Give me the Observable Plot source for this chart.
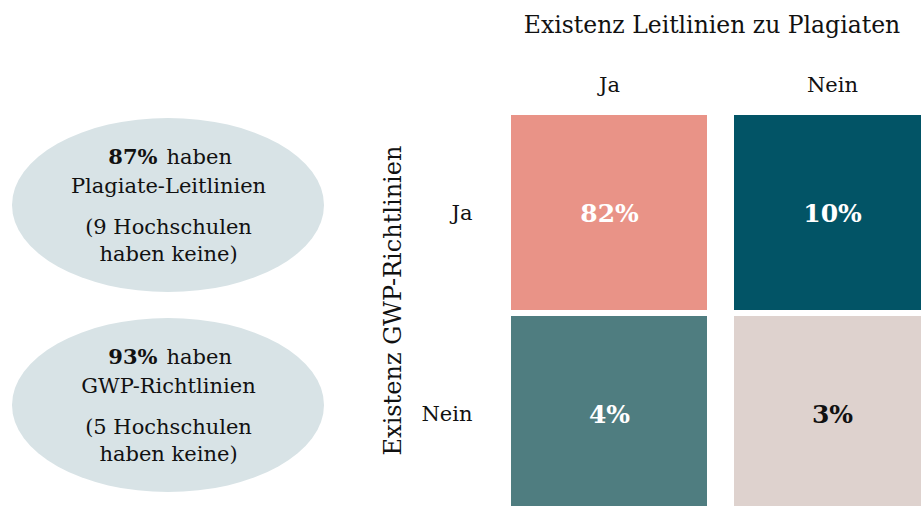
<!DOCTYPE html>
<html>
<head>
<meta charset="utf-8">
<script src="https://cdn.jsdelivr.net/npm/d3@7"></script>
<script src="https://cdn.jsdelivr.net/npm/@observablehq/plot@0.6"></script>
<style>
  html, body { margin: 0; padding: 0; background: #fff; overflow: hidden; }
  #wrap { display: flex; align-items: flex-start; width: 921px; height: 506px; overflow: hidden; }
  #wrap svg { flex: none; }
</style>
</head>
<body>
<div id="wrap"></div>
<script>
// ---- data ----
const plagiatCats = ["Ja", "Nein"];          // columns: Existenz Leitlinien zu Plagiaten
const gwpCats = ["Ja", "Nein"];              // rows: Existenz GWP-Richtlinien
const cellShares = [82, 10, 4, 3];           // row-major: (Ja,Ja) (Ja,Nein) (Nein,Ja) (Nein,Nein)
const summaryKeys = ["plag", "gwp"];
const summaryShares = [87, 93];
const summaryLabels = ["Plagiate-Leitlinien", "GWP-Richtlinien"];
const missingCounts = [9, 5];
const xTitle = "Existenz Leitlinien zu Plagiaten";
const yTitle = "Existenz GWP-Richtlinien";

const cells = [];
gwpCats.forEach((g, i) => plagiatCats.forEach((p, j) => {
  cells.push({gwp: g, plag: p, key: g + "|" + p, share: cellShares[i * plagiatCats.length + j]});
}));
const summaries = summaryKeys.map((k, i) => ({
  key: k, share: summaryShares[i], label: summaryLabels[i], missing: missingCounts[i]
}));

const font = "DejaVu Serif";

// ---- left: summary ellipses ----
const left = Plot.plot({
  width: 345, height: 506,
  marginTop: 118, marginBottom: 14, marginLeft: 12, marginRight: 21,
  style: {fontFamily: font, fontSize: "21px", color: "#111"},
  y: {type: "band", domain: summaryKeys, paddingInner: 0.13, paddingOuter: 0, axis: null},
  marks: [
    Plot.cell(summaries, {y: "key", fill: "#d8e3e6", rx: 156, ry: 87, inset: 0}),
    Plot.text(summaries, {y: "key", text: d => d.share + "%", fontWeight: "bold", textAnchor: "end", dx: -11, dy: -48, fontSize: 21, fill: "#111"}),
    Plot.text(summaries, {y: "key", text: () => "haben", textAnchor: "start", dx: -2, dy: -48, fontSize: 21, fill: "#111"}),
    Plot.text(summaries, {y: "key", text: "label", dy: -19, fontSize: 21, fill: "#111"}),
    Plot.text(summaries, {y: "key", text: d => "(" + d.missing + " Hochschulen", dy: 22, fontSize: 21, fill: "#111"}),
    Plot.text(summaries, {y: "key", text: () => "haben keine)", dy: 49, fontSize: 21, fill: "#111"})
  ]
});

// ---- right: 2x2 matrix ----
const right = Plot.plot({
  width: 586, height: 511,
  marginTop: 115, marginBottom: 0, marginLeft: 165, marginRight: 0,
  style: {fontFamily: font, fontSize: "21px", color: "#111"},
  x: {type: "band", domain: plagiatCats, paddingInner: 0.1205, paddingOuter: 0, label: null},
  y: {type: "band", domain: gwpCats, paddingInner: 0.03, paddingOuter: 0, label: null},
  color: {type: "ordinal", domain: cells.map(d => d.key), range: ["#e99387", "#025466", "#4f7d80", "#ded2ce"]},
  marks: [
    Plot.cell(cells, {x: "plag", y: "gwp", fill: "key", inset: 0}),
    Plot.text(cells, {x: "plag", y: "gwp", text: d => d.share + "%", fontWeight: "bold", fontSize: 25,
      fill: d => (d.gwp === "Nein" && d.plag === "Nein") ? "#111" : "#ffffff", dy: 1}),
    Plot.axisX({anchor: "top", tickSize: 0, tickPadding: 24, fontSize: 21, label: null}),
    Plot.axisY({anchor: "left", tickSize: 0, tickPadding: 38, fontSize: 21, label: null}),
    Plot.text([xTitle], {text: d => d, frameAnchor: "top", textAnchor: "middle", lineAnchor: "middle", dy: -90, dx: -9, fontSize: 23.5, fill: "#111"}),
    Plot.text([yTitle], {text: d => d, frameAnchor: "left", textAnchor: "middle", lineAnchor: "middle", rotate: -90, dx: -117, dy: -13, fontSize: 24, fill: "#111"})
  ]
});

const wrap = document.getElementById("wrap");
wrap.appendChild(left);
wrap.appendChild(right);
</script>
</body>
</html>
